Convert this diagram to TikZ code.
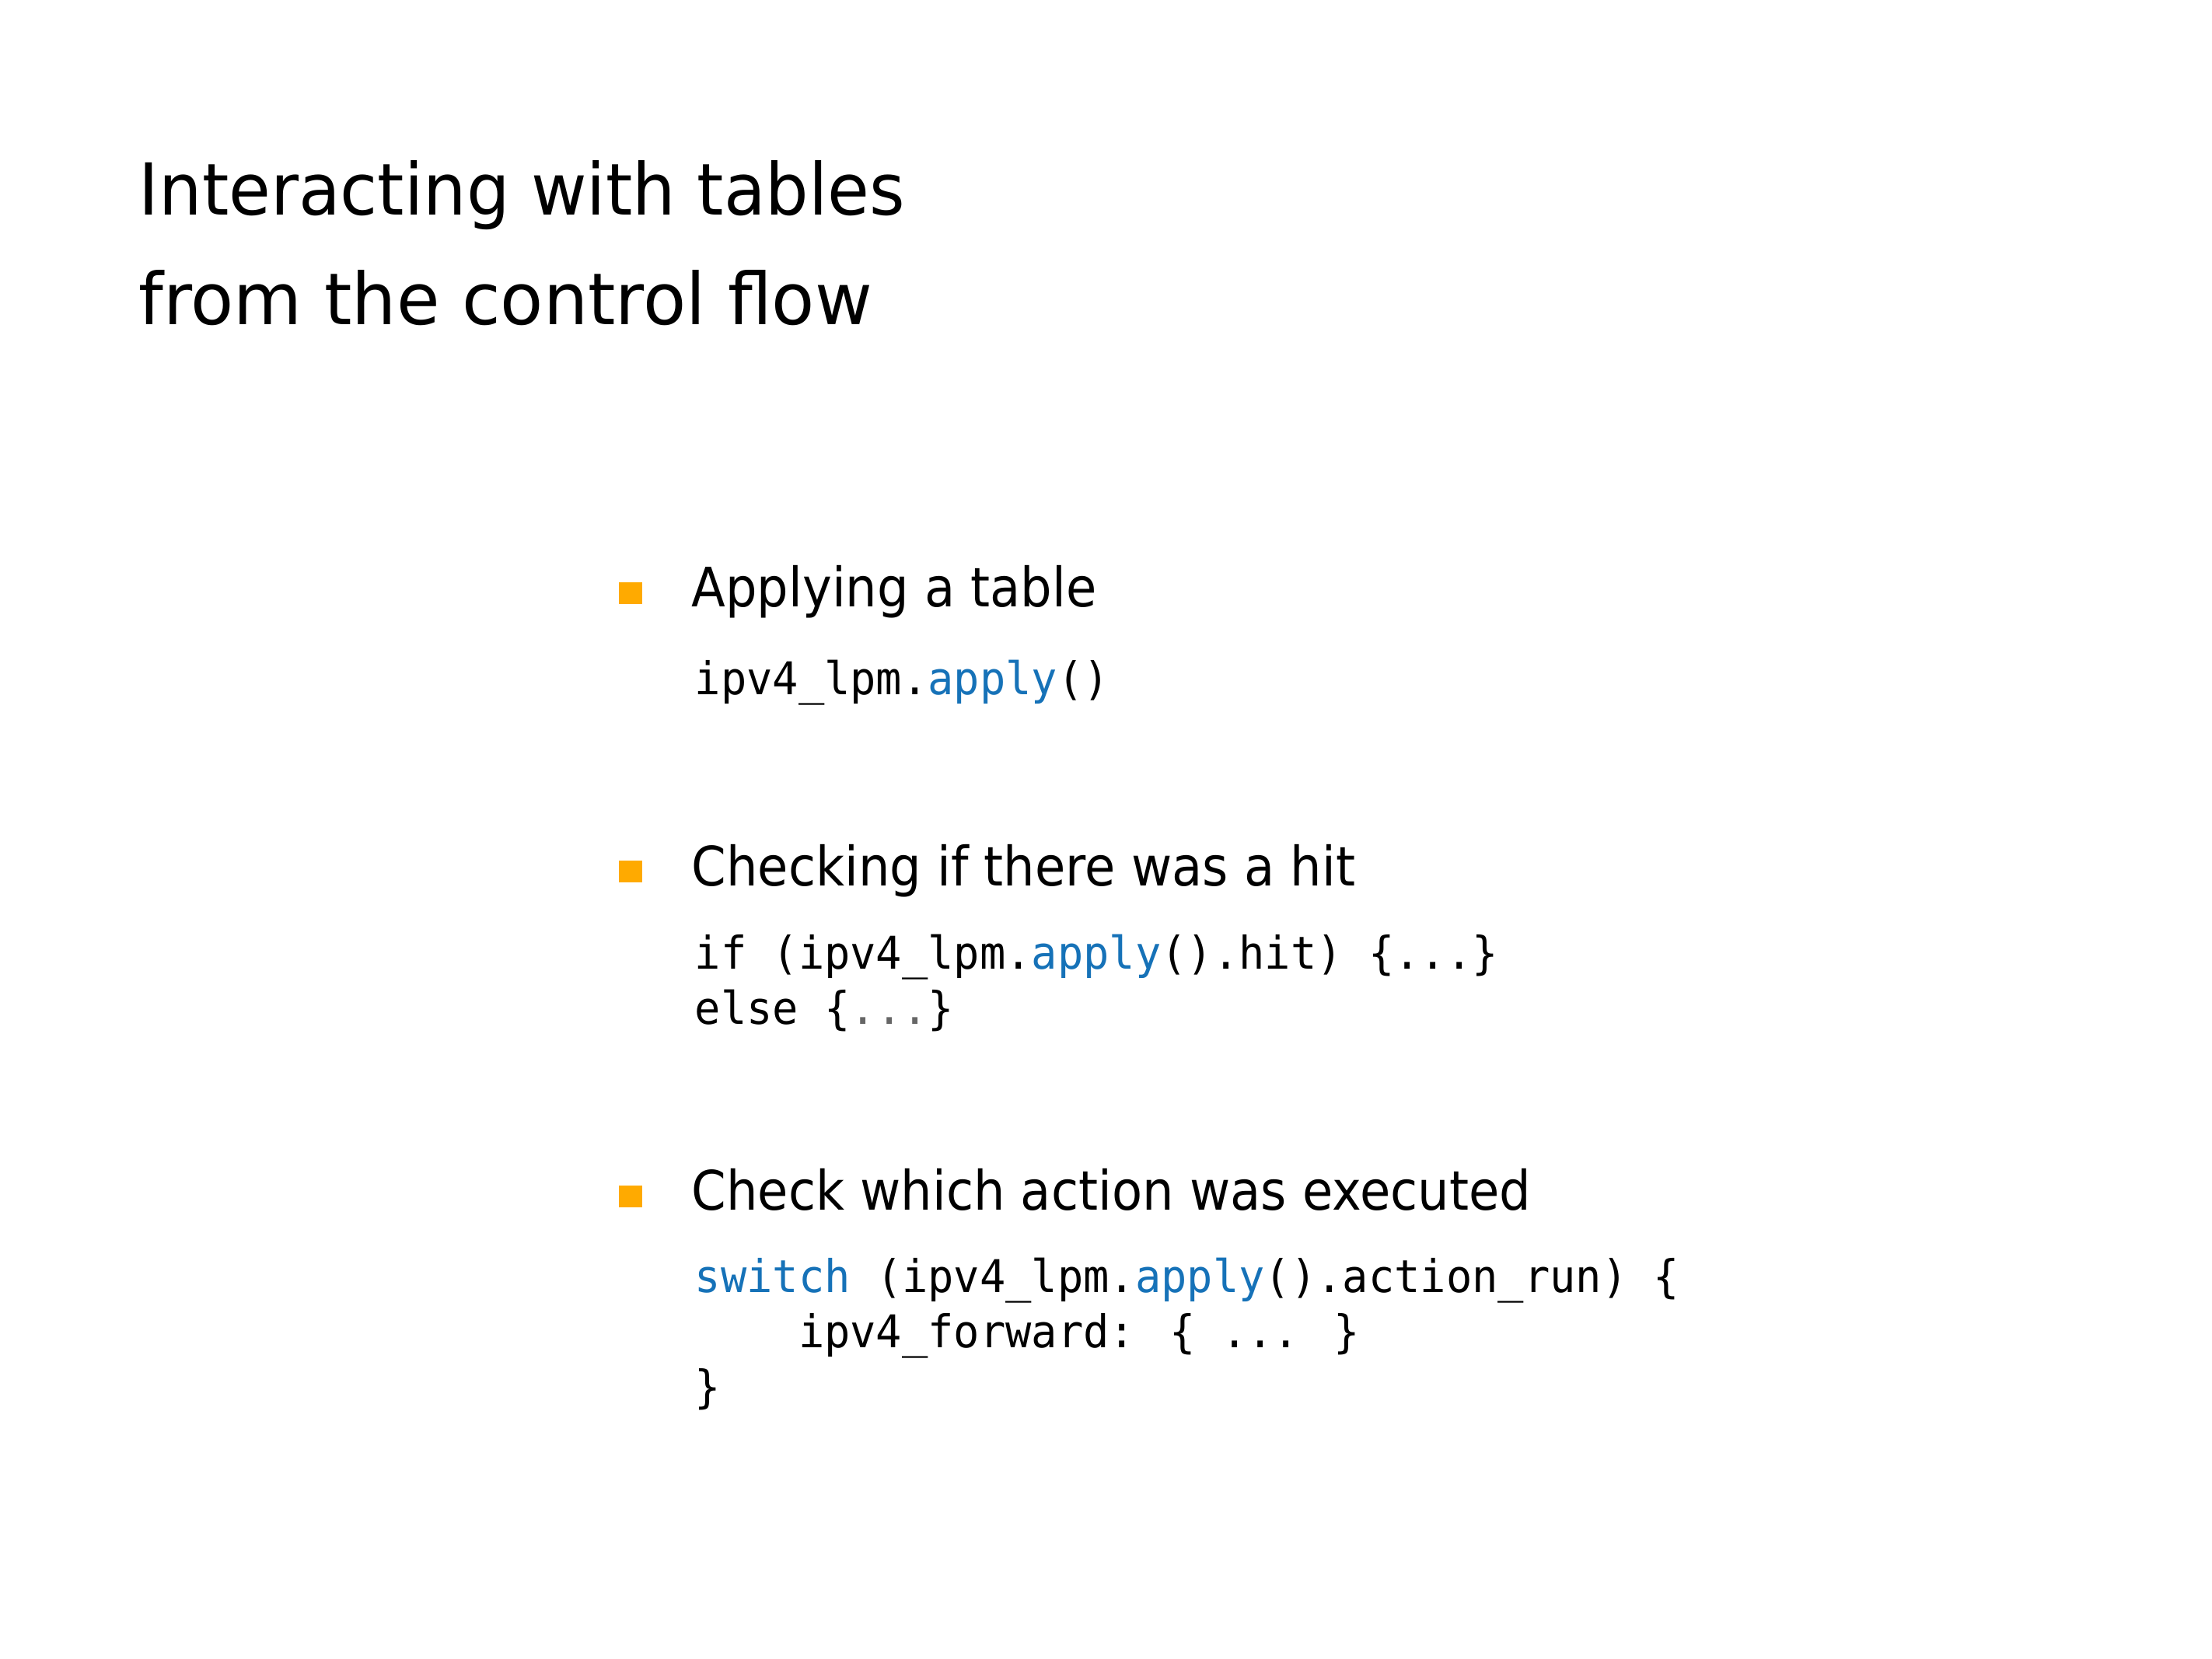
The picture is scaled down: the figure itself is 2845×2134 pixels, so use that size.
\documentclass[tikz,border=0pt]{standalone}
\usepackage{fontspec}
\newfontfamily\titlefont{DejaVu Sans}[FakeStretch=0.95]
\newfontfamily\titlefontb{DejaVu Sans}[FakeStretch=0.98]
\newfontfamily\bodyfont{DejaVu Sans}[FakeStretch=0.913]
\newfontfamily\codefont{DejaVu Sans Mono}[FakeStretch=0.954]
\definecolor{kwblue}{HTML}{1672B8}
\definecolor{bulletorange}{HTML}{FFAA00}
\definecolor{dotgray}{HTML}{666666}
\newcommand{\kw}[1]{\textcolor{kwblue}{#1}}
\tikzset{
  titletext/.style={anchor=base west, inner sep=0pt, font=\titlefont\fontsize{26.2pt}{30pt}\selectfont},
  bodytext/.style={anchor=base west, inner sep=0pt, font=\bodyfont\fontsize{19.9pt}{24pt}\selectfont},
  codetext/.style={anchor=base west, inner sep=0pt, font=\codefont\fontsize{16.5pt}{20pt}\selectfont},
  bulletsq/.style={fill=bulletorange, draw=none, minimum width=0.30cm, minimum height=0.28cm, inner sep=0pt}
}
\begin{document}
\begin{tikzpicture}[x=0.01cm, y=-0.01cm]
\useasboundingbox[fill=white] (0,0) rectangle (2845,2134);
% title
\node[titletext] (t1) at (178,277) {Interacting with tables};
\node[titletext, font=\titlefontb\fontsize{26.2pt}{30pt}\selectfont] (t2) at (178,418) {from the control flow};
% bullet 1
\node[bulletsq] (b1) at (811,763) {};
\node[bodytext] (h1) at (889,781) {Applying a table};
\node[codetext] (c1) at (893,893) {ipv4\_lpm.\kw{apply}()};
% bullet 2
\node[bulletsq] (b2) at (811,1121) {};
\node[bodytext] (h2) at (889,1139) {Checking if there was a hit};
\node[codetext] (c2a) at (893,1246) {if (ipv4\_lpm.\kw{apply}().hit) \{...\}};
\node[codetext] (c2b) at (893,1317) {else \{\textcolor{dotgray}{...}\}};
% bullet 3
\node[bulletsq] (b3) at (811,1539) {};
\node[bodytext] (h3) at (889,1556) {Check which action was executed};
\node[codetext] (c3a) at (893,1662) {\kw{switch} (ipv4\_lpm.\kw{apply}().action\_run) \{};
\node[codetext] (c3b) at (893,1733) {\hphantom{xxxx}ipv4\_forward: \{ ... \}};
\node[codetext] (c3c) at (893,1804) {\}};
\end{tikzpicture}
\end{document}
